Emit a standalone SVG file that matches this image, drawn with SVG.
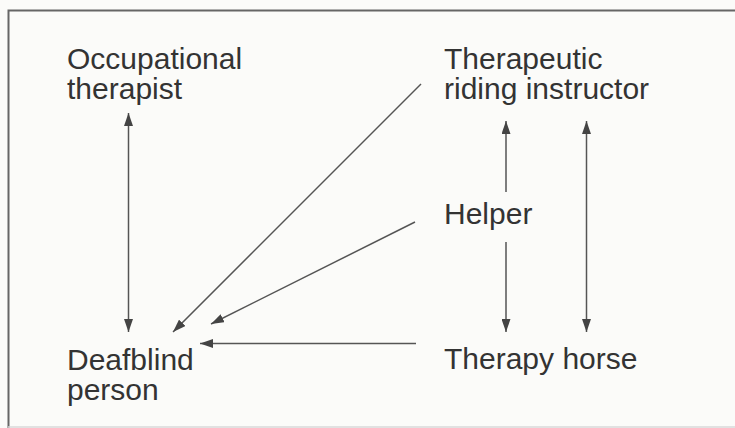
<svg xmlns="http://www.w3.org/2000/svg" width="735" height="428" viewBox="0 0 735 428">
<defs>
<style>
text{font-family:"Liberation Sans",Arial,Helvetica,sans-serif;font-size:30px;fill:#333}
.c{stroke:#555;stroke-width:1.5;fill:none}
.ar{marker-end:url(#ah)}
.both{marker-start:url(#ah);marker-end:url(#ah)}
</style>
<marker id="ah" viewBox="0 0 13 9" refX="13" refY="4.5" markerWidth="13" markerHeight="9" markerUnits="userSpaceOnUse" orient="auto-start-reverse">
<path d="M0,0 L13,4.5 L0,9 z" fill="#444"/>
</marker>
</defs>
<rect width="735" height="428" fill="#fbfbf9"/>
<g id="frame" stroke="#666" stroke-width="2" fill="none">
<path d="M8.5,428 V10.5 H735"/>
<path d="M8,427 H735" stroke="#d8d8d8" stroke-width="1.5"/>
</g>
<g id="connectors">
<line class="c both" x1="128.5" y1="113" x2="128.5" y2="332"/>
<line class="c ar" x1="421" y1="84" x2="173" y2="332"/>
<line class="c ar" x1="415" y1="222" x2="211" y2="324"/>
<line class="c ar" x1="416" y1="343.5" x2="200" y2="343.5"/>
<line class="c ar" x1="506" y1="192" x2="506" y2="121"/>
<line class="c ar" x1="506" y1="242" x2="506" y2="332"/>
<line class="c both" x1="586.5" y1="121" x2="586.5" y2="332"/>
</g>
<g id="occupational-therapist">
<text x="67" y="69">Occupational</text>
<text x="67" y="99">therapist</text>
</g>
<g id="riding-instructor">
<text x="444" y="69">Therapeutic</text>
<text x="444" y="99">riding instructor</text>
</g>
<g id="helper">
<text x="444" y="224">Helper</text>
</g>
<g id="deafblind-person">
<text x="67" y="370">Deafblind</text>
<text x="67" y="400">person</text>
</g>
<g id="therapy-horse">
<text x="444" y="369">Therapy horse</text>
</g>
</svg>
